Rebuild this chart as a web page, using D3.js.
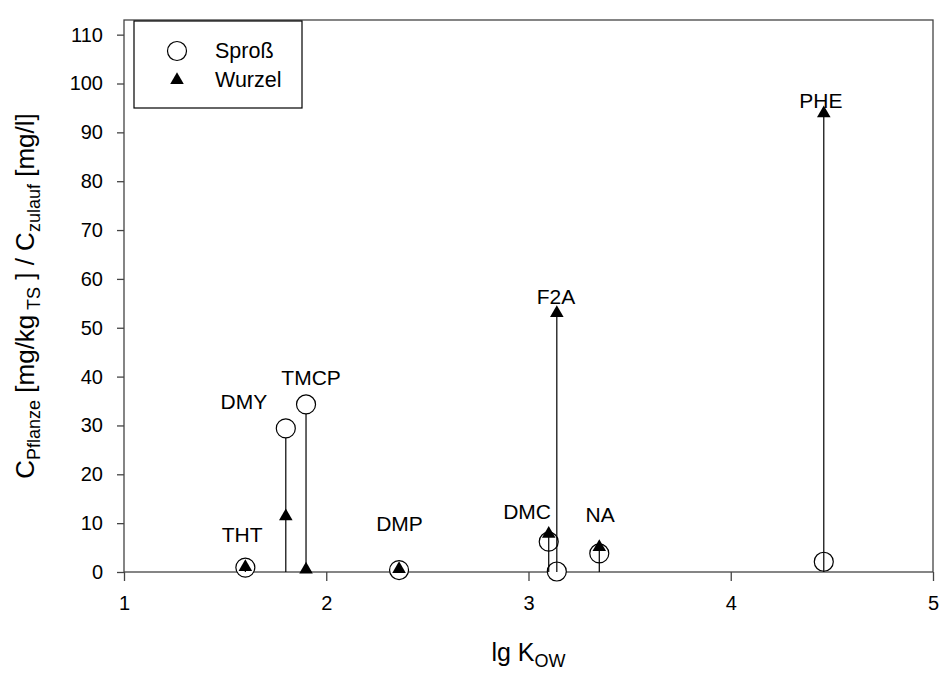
<!DOCTYPE html>
<html>
<head>
<meta charset="utf-8">
<script src="https://cdn.jsdelivr.net/npm/d3@7"></script>
<style>
  body { margin: 0; background: #fff; }
  svg { display: block; font-family: "Liberation Sans", Arial, sans-serif; }
</style>
</head>
<body>
<script>
// compounds and their values
const compounds = ["THT", "DMY", "TMCP", "DMP", "DMC", "F2A", "NA", "PHE"];
const lgKow = [1.60, 1.80, 1.90, 2.36, 3.10, 3.14, 3.35, 4.46];
const spross = [0.9, 29.4, 34.3, 0.4, 6.2, 0.1, 3.8, 2.1];
const wurzel = [1.0, 11.4, 0.5, 0.6, 7.8, 53.0, 5.1, 93.9];

// where each compound name sits, in data units
const labelKow = [1.584, 1.593, 1.925, 2.362, 2.993, 3.136, 3.354, 4.446];
const labelVal = [7.6, 35.0, 39.9, 9.9, 12.4, 56.4, 11.8, 96.6];

const xTicks = [1, 2, 3, 4, 5];
const yTicks = [0, 10, 20, 30, 40, 50, 60, 70, 80, 90, 100, 110];
const legendNames = ["Sproß", "Wurzel"];

const W = 941, H = 673;
const mLeft = 124, mRight = 933, mTop = 20, mBottom = 572;
const R = 9.5;

const svg = d3.select("body").append("svg")
    .attr("width", W).attr("height", H);

const x = d3.scaleLinear().domain([1, 5]).range([mLeft, mRight]);
const y = d3.scaleLinear().domain([0, 113]).range([mBottom, mTop]);

// frame
svg.append("rect")
    .attr("x", mLeft).attr("y", mTop)
    .attr("width", mRight - mLeft).attr("height", mBottom - mTop)
    .attr("fill", "none").attr("stroke", "#444").attr("stroke-width", 1.3);

// axes
const xAxis = svg.append("g")
    .attr("transform", `translate(0,${mBottom})`)
    .call(d3.axisBottom(x).tickValues(xTicks).tickFormat(d3.format("d"))
        .tickSize(9).tickPadding(15));
const yAxis = svg.append("g")
    .attr("transform", `translate(${mLeft},0)`)
    .call(d3.axisLeft(y).tickValues(yTicks).tickSize(7).tickPadding(14));

[xAxis, yAxis].forEach(a => {
    a.select(".domain").remove();
    a.selectAll("line").attr("stroke", "#444").attr("stroke-width", 1.3);
    a.selectAll("text").attr("font-size", 20).attr("fill", "#000")
        .attr("font-family", "Liberation Sans, Arial, sans-serif");
});

const rows = compounds.map((c, i) => ({
    name: c, k: lgKow[i], s: spross[i], w: wurzel[i],
    lk: labelKow[i], lv: labelVal[i]
}));

// circles (Spross)
svg.append("g").selectAll("circle")
    .data(rows).enter().append("circle")
    .attr("cx", d => x(d.k)).attr("cy", d => y(d.s)).attr("r", R)
    .attr("fill", "#fff").attr("stroke", "#000").attr("stroke-width", 1.2);

// drop lines from the higher value down to zero
svg.append("g").selectAll("line")
    .data(rows).enter().append("line")
    .attr("x1", d => x(d.k)).attr("x2", d => x(d.k))
    .attr("y1", d => d.s >= d.w ? y(d.s) + R : y(d.w))
    .attr("y2", y(0))
    .attr("stroke", "#000").attr("stroke-width", 1.2);

// triangles (Wurzel)
const tri = d3.symbol().type(d3.symbolTriangle).size(80);
svg.append("g").selectAll("path")
    .data(rows).enter().append("path")
    .attr("d", tri)
    .attr("transform", d => `translate(${x(d.k)},${y(d.w)})`)
    .attr("fill", "#000");

// compound labels
svg.append("g").selectAll("text")
    .data(rows).enter().append("text")
    .attr("x", d => x(d.lk)).attr("y", d => y(d.lv))
    .attr("dy", "0.36em")
    .attr("text-anchor", "middle")
    .attr("font-size", 21)
    .text(d => d.name);

// legend
const lg = svg.append("g");
lg.append("rect")
    .attr("x", 134).attr("y", 21).attr("width", 168).attr("height", 87)
    .attr("fill", "#fff").attr("stroke", "#000").attr("stroke-width", 1.2);
lg.append("circle").attr("cx", 177).attr("cy", 51).attr("r", R)
    .attr("fill", "#fff").attr("stroke", "#000").attr("stroke-width", 1.2);
lg.append("path").attr("d", tri).attr("transform", "translate(177,80)")
    .attr("fill", "#000");
legendNames.forEach((n, i) => {
    lg.append("text").attr("x", 215).attr("y", 58 + i * 29)
        .attr("font-size", 21.5).text(n);
});

// x title
const xt = svg.append("text")
    .attr("x", (mLeft + mRight) / 2).attr("y", 661)
    .attr("text-anchor", "middle").attr("font-size", 25);
xt.append("tspan").text("lg K");
xt.append("tspan").attr("font-size", 18).attr("dy", 6).text("OW");

// y title
const yt = svg.append("text")
    .attr("transform", `translate(34,${(mTop + mBottom) / 2}) rotate(-90)`)
    .attr("text-anchor", "middle").attr("font-size", 26);
yt.append("tspan").text("C");
yt.append("tspan").attr("font-size", 18).attr("dy", 6).text("Pflanze");
yt.append("tspan").attr("dy", -6).text(" [mg/kg");
yt.append("tspan").attr("font-size", 18).attr("dy", 6).text(" TS");
yt.append("tspan").attr("dy", -6).text(" ] / C");
yt.append("tspan").attr("font-size", 18).attr("dy", 6).text("zulauf");
yt.append("tspan").attr("dy", -6).text(" [mg/l]");
</script>
</body>
</html>
